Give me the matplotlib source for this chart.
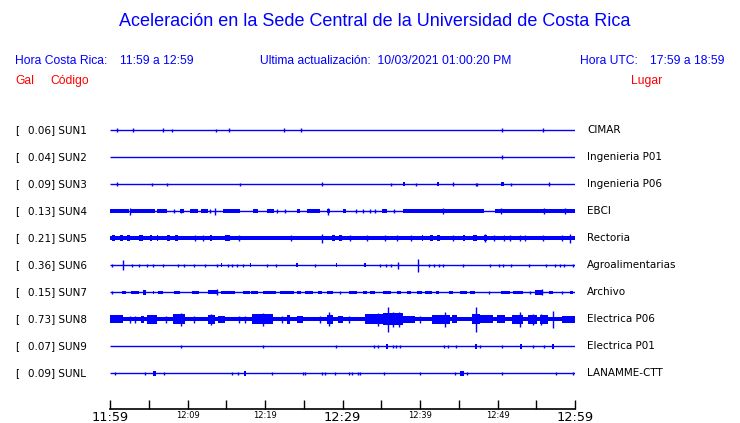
import matplotlib.pyplot as plt

# station info
codes = ['SUN1', 'SUN2', 'SUN3', 'SUN4', 'SUN5', 'SUN6', 'SUN7', 'SUN8', 'SUN9', 'SUNL']
peaks = [0.06, 0.04, 0.09, 0.13, 0.21, 0.36, 0.15, 0.73, 0.07, 0.09]
places = ['CIMAR', 'Ingenieria P01', 'Ingenieria P06', 'EBCI', 'Rectoria',
          'Agroalimentarias', 'Archivo', 'Electrica P06', 'Electrica P01', 'LANAMME-CTT']

tick_min = list(range(0, 61, 5))
tick_lbl = ['11:59', '', '12:09', '', '12:19', '', '12:29', '', '12:39', '', '12:49', '', '12:59']
big_lbl = ['11:59', '12:29', '12:59']

# background noise band (half amplitude) of each trace
noise = [0.6, 0.6, 0.6, 0.6, 2.0, 0.6, 0.6, 2.2, 0.6, 0.6]

# spikes: (minute, half amplitude)
sun1_spikes = [(0.86, 2), (3.0, 2), (6.9, 2), (8.0, 1.5), (13.7, 1.5), (15.4, 2),
               (22.5, 2), (24.6, 2), (50.6, 2), (55.9, 2)]
sun2_spikes = [(50.6, 2)]
sun3_spikes = [(0.95, 2), (5.4, 1.5), (7.3, 1.5), (16.8, 1.5), (27.3, 2), (36.3, 1.5),
               (39.5, 1.5), (44.3, 2), (47.2, 1.5), (47.4, 1.5), (51.7, 1.5), (56.6, 2)]
sun4_spikes = [(2.6, 3.5), (13.5, 3.5), (28.1, 3.5), (43.0, 3), (50.5, 3), (56.0, 3),
               (58.7, 3), (8.2, 2), (9.2, 2), (12.9, 2), (21.5, 2), (22.6, 2),
               (31.8, 2), (32.7, 2), (33.6, 2), (34.2, 2), (36.6, 2)]
sun5_spikes = [(11.0, 3), (12.0, 3), (16.6, 3), (23.4, 3), (27.3, 4.5), (31.0, 3),
               (33.1, 3), (35.5, 3), (37.0, 3), (38.9, 3), (44.3, 3), (48.4, 4),
               (49.5, 3), (50.8, 3), (51.6, 3), (52.9, 3), (53.5, 3), (55.9, 3),
               (58.3, 3), (59.3, 4.5)]
sun6_spikes = [(0.2, 1.5), (1.7, 5), (2.8, 1.5), (3.8, 1.5), (4.8, 1.5), (5.5, 1.5),
               (6.8, 1.5), (8.8, 1.5), (9.5, 1.5), (10.9, 1.5), (12.3, 1.5), (13.8, 1.5),
               (15.2, 1.5), (15.8, 1.5), (16.4, 1.5), (17.2, 1.5), (20.3, 1.5), (21.4, 1.5),
               (26.5, 1.5), (34.9, 1.5), (35.6, 1.5), (36.3, 1.5), (37.1, 3.5), (39.7, 6.5),
               (41.1, 1.5), (41.8, 1.5), (42.5, 1.5), (43.0, 1.5), (45.6, 1.5), (49.0, 1.5),
               (50.2, 1.5), (50.7, 1.5), (51.7, 1.5), (54.1, 1.5), (56.3, 1.5), (57.4, 1.5),
               (58.0, 1.5), (58.6, 1.5), (59.8, 1.5)]
sun7_spikes = [(0.3, 1.5), (13.8, 3), (29.7, 1.5), (48.9, 1.5), (54.2, 1.5), (55.7, 3),
               (58.3, 1.5)]
sun8_spikes = [(2.6, 3.5), (3.2, 3.5), (7.2, 3.5), (9.2, 6.5), (10.8, 3.5), (13.0, 5.5),
               (16.6, 3.5), (17.4, 3.5), (19.7, 6.5), (22.2, 3.5), (27.1, 3.5), (28.3, 7),
               (30.8, 3.5), (34.6, 6.5), (35.9, 12.5), (36.5, 7.5), (37.3, 7.5), (40.0, 3.5),
               (43.2, 7.5), (47.2, 12.5), (52.9, 7.5), (54.6, 5.5), (55.6, 5.5), (57.2, 8.5)]
sun9_spikes = [(9.2, 1.5), (19.8, 1.5), (29.1, 1.5), (34.1, 1.5), (34.6, 1.5), (36.5, 1.5),
               (36.9, 1.5), (37.4, 1.5), (43.1, 1.5), (43.6, 1.5), (44.6, 1.5), (47.7, 1.5),
               (50.6, 1.5), (54.6, 1.5), (56.0, 1.5)]
sunl_spikes = [(0.7, 1.5), (4.5, 1.5), (7.0, 1.5), (15.7, 1.5), (16.5, 1.5), (20.9, 1.5),
               (24.9, 1.5), (25.2, 1.5), (27.4, 1.5), (27.8, 1.5), (29.0, 1.5), (30.8, 1.5),
               (31.2, 1.5), (32.0, 1.5), (32.3, 1.5), (35.4, 1.5), (40.0, 1.5), (44.5, 1.5),
               (46.0, 1.5), (50.6, 1.5), (57.6, 1.5), (59.8, 1.5)]

# bursts: (start minute, end minute, half amplitude)
sun1_bursts = []
sun2_bursts = []
sun3_bursts = [(37.8, 38.1, 2), (42.2, 42.5, 2), (50.5, 50.8, 2)]
sun4_bursts = [(0, 2.4, 1.9), (2.6, 5.8, 1.9), (6.0, 7.3, 1.9), (9.0, 9.5, 1.9),
               (10.3, 11.4, 1.9), (11.8, 12.7, 1.9), (14.6, 16.8, 1.9), (18.5, 19.1, 1.9),
               (20.2, 21.1, 1.9), (24.1, 24.5, 1.9), (25.4, 27.1, 1.9), (28.0, 28.4, 1.9),
               (30.1, 30.5, 1.9), (35.1, 35.7, 1.9), (37.8, 45.6, 1.9), (45.6, 48.2, 1.9),
               (49.7, 60, 1.9)]
sun5_bursts = [(0.2, 0.6, 3), (1.3, 1.7, 3), (2.2, 2.6, 3), (3.8, 4.2, 3),
               (5.2, 5.4, 3), (6.0, 6.2, 3), (7.3, 7.7, 3), (8.4, 8.8, 3),
               (12.9, 13.1, 3), (14.8, 15.5, 3), (28.6, 29.0, 3), (29.5, 29.9, 3),
               (40.2, 40.4, 3), (41.3, 41.7, 3), (42.2, 42.6, 3), (45.6, 45.8, 3),
               (46.9, 47.3, 3), (48.2, 48.6, 3)]
sun6_bursts = [(14.3, 14.5, 2), (18.0, 18.2, 2), (24.0, 24.2, 2), (29.1, 29.3, 2),
               (32.8, 33.0, 2)]
sun7_bursts = [(1.5, 2.1, 1.5), (2.7, 3.7, 1.5), (4.3, 4.7, 2.5), (5.5, 5.7, 1.5),
               (6.2, 6.9, 1.5), (8.2, 9.0, 1.5), (10.6, 11.5, 1.5), (12.6, 13.8, 2),
               (14.3, 16.1, 1.5), (17.2, 18.1, 1.5), (18.2, 19.1, 1.5), (19.8, 21.4, 1.5),
               (21.9, 23.7, 1.5), (24.1, 24.7, 1.5), (25.2, 26.2, 1.5), (26.8, 27.3, 1.5),
               (28.0, 28.8, 1.5), (30.9, 31.9, 1.5), (32.7, 33.1, 1.5), (33.5, 34.2, 1.5),
               (35.2, 36.3, 1.5), (37.0, 37.6, 1.5), (38.3, 38.9, 1.5), (39.6, 40.2, 1.5),
               (40.6, 41.5, 1.5), (42.1, 42.4, 1.5), (43.7, 44.3, 1.5), (45.2, 46.0, 1.5),
               (46.5, 47.1, 1.5), (50.5, 51.6, 1.5), (52.0, 53.3, 1.5), (54.8, 55.9, 2.5),
               (56.6, 57.2, 1.5), (59.4, 59.8, 1.5)]
sun8_bursts = [(0, 1.7, 4), (4.0, 4.4, 3.5), (4.8, 6.1, 4.5), (8.1, 9.7, 5),
               (12.6, 13.5, 4.5), (13.9, 14.8, 3.5), (18.3, 21.0, 5), (22.8, 23.2, 4.5),
               (24.1, 24.9, 3.5), (28.0, 28.8, 4.5), (29.4, 30.1, 3.5), (32.9, 35.2, 5),
               (35.2, 37.8, 6), (37.8, 39.4, 3.5), (41.5, 43.9, 4.5), (44.1, 44.8, 4),
               (46.7, 47.7, 5), (47.7, 49.4, 4), (49.9, 51.0, 4), (51.9, 53.3, 4.5),
               (53.9, 55.1, 4.5), (55.5, 56.5, 4.5), (58.3, 60, 3.5)]
sun9_bursts = [(35.6, 35.9, 2.5), (47.1, 47.4, 2.5), (52.9, 53.2, 2.5), (57.0, 57.3, 2.5)]
sunl_bursts = [(5.6, 5.9, 2.5), (17.3, 17.6, 2.5), (45.1, 45.7, 2.5)]

all_spikes = [sun1_spikes, sun2_spikes, sun3_spikes, sun4_spikes, sun5_spikes,
              sun6_spikes, sun7_spikes, sun8_spikes, sun9_spikes, sunl_spikes]
all_bursts = [sun1_bursts, sun2_bursts, sun3_bursts, sun4_bursts, sun5_bursts,
              sun6_bursts, sun7_bursts, sun8_bursts, sun9_bursts, sunl_bursts]

W, H = 740, 423
blue = '#0000ff'
red = '#ff0000'

fig = plt.figure(figsize=(W / 100, H / 100), dpi=100)
fig.patch.set_facecolor('white')


def fx(x):
    return x / W


def fy(y):
    return 1 - y / H


# traces axes: pixel rows 115..409, columns 110..575
ax = fig.add_axes([fx(110), fy(409), fx(575) - fx(110), fy(115) - fy(409)])
ax.set_xlim(0, 60)
ax.set_ylim(409, 115)

for i in range(len(codes)):
    y0 = 130 + 27 * i
    ax.hlines(y0, 0, 60, color=blue, lw=1.0)
    n = noise[i]
    if n > 0.6:
        ax.bar(0, 2 * n, width=60, bottom=y0 - n, align='edge', color=blue, lw=0)
    for s, e, a in all_bursts[i]:
        ax.bar(s, 2 * a, width=e - s, bottom=y0 - a, align='edge', color=blue, lw=0)
    for m, a in all_spikes[i]:
        ax.vlines(m, y0 - a, y0 + a, color=blue, lw=1.0)

    fig.text(fx(15), fy(y0), '[', fontsize=7.5, va='center', ha='left', family='DejaVu Sans')
    fig.text(fx(27.5), fy(y0), '%.2f] %s' % (peaks[i], codes[i]), fontsize=7.5,
             va='center', ha='left', family='DejaVu Sans')
    fig.text(fx(587), fy(y0), places[i], fontsize=7.5, va='center', ha='left',
             family='DejaVu Sans')

for sp in ['left', 'right', 'top']:
    ax.spines[sp].set_visible(False)
ax.spines['bottom'].set_linewidth(1.2)
ax.set_yticks([])
ax.set_xticks(tick_min)
ax.set_xticklabels(tick_lbl)
ax.tick_params(axis='x', direction='in', length=6.5, width=1.0, pad=1.5)
for lab in ax.get_xticklabels():
    if lab.get_text() in big_lbl:
        lab.set_fontsize(9.3)
    else:
        lab.set_fontsize(6)

# header texts
fig.text(fx(375), fy(22), 'Aceleración en la Sede Central de la Universidad de Costa Rica',
         fontsize=13, color=blue, ha='center', va='center', family='Liberation Sans')
hdr = dict(fontsize=8.7, color=blue, va='center', family='Liberation Sans')
fig.text(fx(15), fy(61), 'Hora Costa Rica:', ha='left', **hdr)
fig.text(fx(120), fy(61), '11:59 a 12:59', ha='left', **hdr)
fig.text(fx(260), fy(61), 'Ultima actualización:  10/03/2021 01:00:20 PM', ha='left', **hdr)
fig.text(fx(580), fy(61), 'Hora UTC:', ha='left', **hdr)
fig.text(fx(724), fy(61), '17:59 a 18:59', ha='right', **hdr)
red_t = dict(fontsize=8.7, color=red, va='center', family='Liberation Sans')
fig.text(fx(15), fy(81), 'Gal', ha='left', **red_t)
fig.text(fx(50), fy(81), 'Código', ha='left', **red_t)
fig.text(fx(662), fy(81), 'Lugar', ha='right', **red_t)

plt.savefig('out.png', dpi=100)
